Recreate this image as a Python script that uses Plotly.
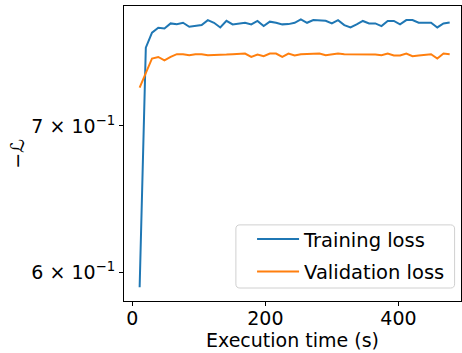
import plotly.graph_objects as go

time_s = [11.0, 20.3, 29.6, 39.0, 48.3, 57.6, 66.9, 76.2, 85.6, 94.9,
          104.2, 113.5, 122.8, 132.2, 141.5, 150.8, 160.1, 169.4, 178.8, 188.1,
          197.4, 206.7, 216.0, 225.4, 234.7, 244.0, 253.3, 262.6, 272.0, 281.3,
          290.6, 299.9, 309.2, 318.6, 327.9, 337.2, 346.5, 355.8, 365.2, 374.5,
          383.8, 393.1, 402.4, 411.8, 421.1, 430.4, 439.7, 449.0, 458.4, 467.7,
          477.0]

training = [0.591, 0.760, 0.772, 0.776, 0.7755, 0.7796, 0.7790, 0.7801, 0.7768, 0.7774,
            0.7782, 0.7823, 0.7801, 0.7763, 0.7817, 0.7788, 0.7796, 0.7801, 0.7788, 0.7816,
            0.7774, 0.7810, 0.7801, 0.7788, 0.7790, 0.7801, 0.7829, 0.7801, 0.7823, 0.7817,
            0.7817, 0.7796, 0.7823, 0.7782, 0.7763, 0.7788, 0.7816, 0.7796, 0.7796, 0.7774,
            0.7816, 0.7816, 0.7788, 0.7823, 0.7823, 0.7801, 0.7801, 0.7801, 0.7763, 0.7796,
            0.7804]

validation = [0.7288, 0.7401, 0.7514, 0.7526, 0.7500, 0.7526, 0.7548, 0.7548, 0.7540, 0.7548,
              0.7548, 0.7540, 0.7540, 0.7545, 0.7545, 0.7548, 0.7548, 0.7553, 0.7526, 0.7545,
              0.7532, 0.7553, 0.7553, 0.7526, 0.7553, 0.7537, 0.7548, 0.7548, 0.7553, 0.7553,
              0.7540, 0.7548, 0.7553, 0.7548, 0.7548, 0.7545, 0.7545, 0.7548, 0.7545, 0.7540,
              0.7553, 0.7537, 0.7537, 0.7553, 0.7532, 0.7537, 0.7540, 0.7548, 0.7514, 0.7553,
              0.7548]

x_ticks = [0, 200, 400]
y_ticks = [0.6, 0.7]
y_ticktext = ["6 × 10<sup>−1</sup>", "7 × 10<sup>−1</sup>"]

FONT = "DejaVu Sans"

fig = go.Figure()
fig.add_trace(go.Scatter(x=time_s, y=training, mode="lines", name="Training loss",
                         legendgroup="a", line=dict(color="#1f77b4", width=2)))
fig.add_trace(go.Scatter(x=time_s, y=validation, mode="lines", name="Validation loss",
                         legendgroup="b", line=dict(color="#ff7f0e", width=2)))

# rounded legend frame (paper coordinates)
x0, x1, y0, y1 = 0.332, 0.981, 0.044, 0.258
rx, ry = 0.012, 0.014
frame = (f"M{x0+rx},{y0} L{x1-rx},{y0} Q{x1},{y0} {x1},{y0+ry} "
         f"L{x1},{y1-ry} Q{x1},{y1} {x1-rx},{y1} L{x0+rx},{y1} "
         f"Q{x0},{y1} {x0},{y1-ry} L{x0},{y0+ry} Q{x0},{y0} {x0+rx},{y0} Z")

fig.update_layout(
    width=462, height=353,
    margin=dict(l=124, r=1, t=6, b=52),
    paper_bgcolor="white", plot_bgcolor="white",
    font=dict(family=FONT, size=19, color="black"),
    showlegend=True,
    legend=dict(x=0.380, xanchor="left", y=0.275, yanchor="top",
                borderwidth=0, bgcolor="rgba(0,0,0,0)", itemwidth=42,
                traceorder="grouped", tracegroupgap=4,
                font=dict(family=FONT, size=19.5, color="black")),
    shapes=[dict(type="path", xref="paper", yref="paper", path=frame,
                 line=dict(color="#d0d0d0", width=1),
                 fillcolor="rgba(255,255,255,0.8)", layer="above")],
    xaxis=dict(range=[-12.5, 494], tickvals=x_ticks, ticks="outside", ticklen=4,
               tickcolor="black", showline=True, linecolor="black", linewidth=1,
               mirror=True, showgrid=False, zeroline=False, ticklabelstandoff=-4,
               title=dict(text="Execution time (s)", standoff=4,
                          font=dict(family=FONT, size=19))),
    yaxis=dict(type="log", range=[-0.2347, -0.1002], tickvals=y_ticks, ticktext=y_ticktext,
               ticks="outside", ticklen=4, tickcolor="black", showline=True,
               linecolor="black", linewidth=1, mirror=True, showgrid=False,
               zeroline=False),
)

fig.add_annotation(text="−ℒ", xref="paper", yref="paper", x=-0.32, y=0.5,
                   xanchor="center", yanchor="middle", textangle=-90,
                   showarrow=False, font=dict(family=FONT, size=19, color="black"))

fig.write_html("out.html")
